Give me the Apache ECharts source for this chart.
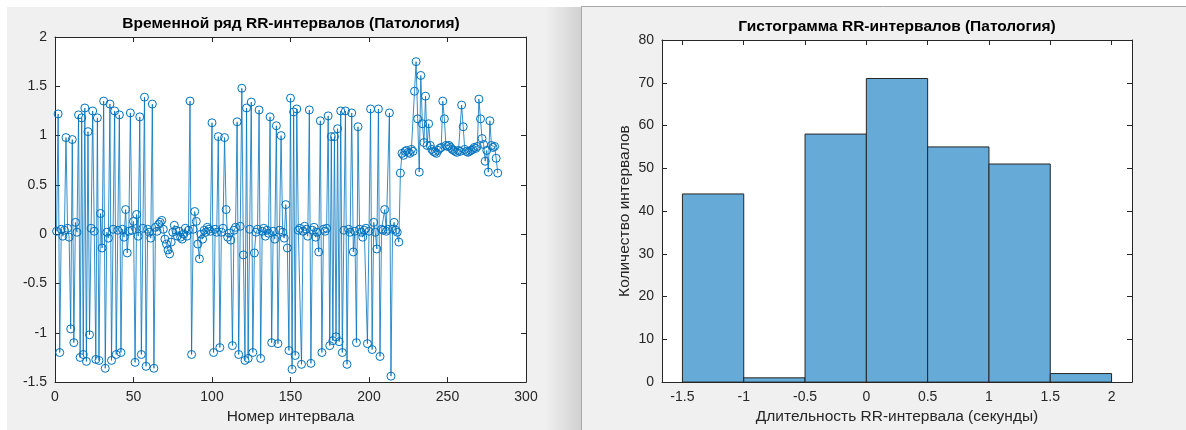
<!DOCTYPE html>
<html>
<head>
<meta charset="utf-8">
<script src="https://cdn.jsdelivr.net/npm/echarts@6/dist/echarts.min.js"></script>
<style>
html,body{margin:0;padding:0;background:#fff;}
#chart{width:1186px;height:430px;}
</style>
</head>
<body>
<div id="chart"></div>
<script>
// ---- Data ----
const leftTitle = 'Временной ряд RR-интервалов (Патология)';
const rightTitle = 'Гистограмма RR-интервалов (Патология)';
const leftXName = 'Номер интервала';
const rightXName = 'Длительность RR-интервала (секунды)';
const rightYName = 'Количество интервалов';

// RR values, interval numbers 1..282
const rrValues = [
  0.03, 1.22, -1.20, 0.05, -0.02, 0.04, 0.98, 0.06, -0.03, -0.96,
  0.96, -1.10, 0.12, 0.02, 1.21, -1.25, 1.18, -1.22, 1.28, -1.29,
  1.04, -1.02, 0.06, 1.25, 0.03, -1.27, 1.18, -1.28, 0.21, -0.14,
  1.35, -1.36, 0.02, -0.04, 1.32, -1.28, 0.05, 1.25, -1.22, 0.04,
  1.21, -1.20, 0.05, -0.03, 0.25, -0.19, 0.03, 1.23, 0.04, 0.13,
  -1.30, 0.20, -0.02, 1.19, -1.22, 0.06, 1.39, -1.34, 0.05, 0.02,
  -0.04, 1.32, -1.36, 0.07, 0.03, 0.10, 0.12, 0.14, 0.05, -0.05,
  -0.10, -0.16, -0.20, -0.08, 0.02, 0.09, 0.04, -0.02, 0.03, -0.03,
  -0.05, 0.00, 0.06, -0.02, 0.04, 1.35, -1.22, 0.05, 0.23, 0.13,
  -0.10, -0.25, 0.00, -0.05, 0.04, 0.02, 0.07, 0.05, 0.03, 1.13,
  -1.20, 0.05, 0.02, 0.99, -1.15, 0.02, 0.06, 0.98, 0.25, -0.03,
  0.01, -0.06, -1.13, 0.04, 0.07, 1.14, -1.22, 0.08, 1.48, -0.21,
  -1.28, 1.28, -1.26, 0.05, 1.34, -1.20, -0.19, 0.02, 0.05, 1.26,
  -1.26, 0.03, 0.06, -0.02, 0.04, 0.01, 1.19, -1.10, 0.03, -0.05,
  1.10, -1.11, 0.04, 1.00, 0.02, -0.04, 0.30, -0.14, -1.18, 1.38,
  -1.37, 1.24, -1.23, 1.27, 0.04, 0.06, -1.32, 0.03, 0.08, 0.05,
  -0.02, 1.26, -1.31, 0.04, 0.07, -0.03, 0.02, -0.18, 1.15, -1.20,
  0.05, 0.03, 0.06, 1.20, -1.13, 0.99, -1.08, 0.99, -1.04, 1.07,
  -1.09, 1.25, -1.20, 0.04, 1.25, -1.32, 0.05, 0.02, 1.23, -0.18,
  0.03, -1.10, 1.09, 0.05, 0.02, -0.03, 0.04, 0.06, -1.11, 0.03,
  1.27, -1.17, 0.12, 0.02, -0.15, 1.27, -1.24, 0.05, 0.04, 0.25,
  0.03, 0.05, 1.23, -1.44, 0.05, 0.12, 0.04, 0.02, -0.08, 0.62,
  0.82, 0.80, 0.84, 0.85, 0.83, 0.82, 0.86, 0.84, 1.45, 1.75,
  1.17, 0.63, 1.61, 1.12, 0.93, 1.40, 0.90, 1.12, 0.90, 0.86,
  0.84, 0.83, 0.82, 0.85, 0.87, 0.88, 1.35, 1.17, 0.90, 0.89,
  0.90, 0.88, 0.86, 0.85, 0.84, 0.83, 0.85, 0.84, 1.31, 1.09,
  0.86, 0.84, 0.83, 0.84, 0.85, 0.86, 0.88, 0.87, 0.89, 1.37,
  1.17, 0.97, 0.91, 0.74, 0.85, 0.63, 1.15, 0.90, 0.88, 0.89,
  0.77, 0.62
];

// Histogram
const binEdges = [-1.5, -1, -0.5, 0, 0.5, 1, 1.5, 2];
const binCounts = [44, 1, 58, 71, 55, 51, 2];
const histTicks = [-1.5, -1, -0.5, 0, 0.5, 1, 1.5, 2];

// ---- Styling ----
const FONT = 'Liberation Sans, Arial, Helvetica, sans-serif';
const AX = '#262626';
const BLUE = '#0072BD';
const HIST_FILL = '#66AAD7';
const TICK_FS = 14;
const NAME_FS = 15.5;
const TITLE_FS = 15.5;

const chart = echarts.init(document.getElementById('chart'), null, {renderer: 'canvas'});

function tickStyle(extra) {
  return Object.assign({show: true, inside: true, length: 5, lineStyle: {color: AX, width: 1}}, extra || {});
}
function labelStyle(extra) {
  return Object.assign({show: true, color: AX, fontSize: TICK_FS, fontFamily: FONT, margin: 8}, extra || {});
}
function axisBase(extra) {
  return Object.assign({
    type: 'value',
    axisLine: {show: true, onZero: false, lineStyle: {color: AX, width: 1}},
    axisTick: tickStyle(),
    axisLabel: labelStyle(),
    splitLine: {show: false},
    nameTextStyle: {color: AX, fontSize: NAME_FS, fontFamily: FONT}
  }, extra);
}
function hiddenLabels(o) { o.axisLabel = Object.assign({}, o.axisLabel, {show: false}); return o; }

const lineData = rrValues.map((v, i) => [i + 1, v]);
const histData = binCounts.map((c, i) => [binEdges[i], binEdges[i + 1], c]);

const option = {
  animation: false,
  backgroundColor: '#ffffff',
  graphic: [
    {type: 'rect', z: -100, shape: {x: 7, y: 7, width: 574, height: 423}, style: {fill: '#f0f0f0'}, silent: true},
    {type: 'rect', z: -99, shape: {x: 545, y: 7, width: 36, height: 423}, silent: true,
      style: {fill: new echarts.graphic.LinearGradient(0, 0, 1, 0, [
        {offset: 0, color: 'rgba(0,0,0,0)'}, {offset: 1, color: 'rgba(0,0,0,0.13)'}])}},
    {type: 'rect', z: -98, shape: {x: 581, y: 7, width: 605, height: 423}, style: {fill: '#f0f0f0'}, silent: true},
    {type: 'line', z: -97, shape: {x1: 581.5, y1: 7, x2: 581.5, y2: 430}, style: {stroke: '#a8a8a8', lineWidth: 1}, silent: true},
    {type: 'line', z: -97, shape: {x1: 581, y1: 6.5, x2: 1186, y2: 6.5}, style: {stroke: '#a8a8a8', lineWidth: 1}, silent: true}
  ],
  title: [
    {text: leftTitle, left: 291, top: 16, textAlign: 'center', padding: 0,
      textStyle: {fontFamily: FONT, fontSize: TITLE_FS, fontWeight: 'bold', color: '#000'}},
    {text: rightTitle, left: 897, top: 18.5, textAlign: 'center', padding: 0,
      textStyle: {fontFamily: FONT, fontSize: TITLE_FS, fontWeight: 'bold', color: '#000'}}
  ],
  grid: [
    {left: 55, top: 37, width: 471, height: 346, show: true, backgroundColor: '#fff', borderWidth: 0},
    {left: 662, top: 40, width: 470, height: 346, show: true, backgroundColor: '#fff', borderWidth: 0}
  ],
  xAxis: [
    axisBase({gridIndex: 0, position: 'bottom', min: 0, max: 300, interval: 50,
      name: leftXName, nameLocation: 'middle', nameGap: 25}),
    hiddenLabels(axisBase({gridIndex: 0, position: 'top', min: 0, max: 300, interval: 50})),
    axisBase({gridIndex: 1, position: 'bottom', min: -5 / 3, max: 13 / 6,
      axisLabel: labelStyle({customValues: histTicks}),
      axisTick: tickStyle({customValues: histTicks}),
      name: rightXName, nameLocation: 'middle', nameGap: 26}),
    hiddenLabels(axisBase({gridIndex: 1, position: 'top', min: -5 / 3, max: 13 / 6,
      axisTick: tickStyle({customValues: histTicks})}))
  ],
  yAxis: [
    axisBase({gridIndex: 0, position: 'left', min: -1.5, max: 2, interval: 0.5}),
    hiddenLabels(axisBase({gridIndex: 0, position: 'right', min: -1.5, max: 2, interval: 0.5})),
    axisBase({gridIndex: 1, position: 'left', min: 0, max: 80, interval: 10,
      name: rightYName, nameLocation: 'middle', nameRotate: 90, nameGap: 29}),
    hiddenLabels(axisBase({gridIndex: 1, position: 'right', min: 0, max: 80, interval: 10}))
  ],
  series: [
    {
      type: 'line', xAxisIndex: 0, yAxisIndex: 0, data: lineData,
      symbol: 'circle', symbolSize: 8, showSymbol: true,
      lineStyle: {color: BLUE, width: 0.8},
      itemStyle: {color: 'rgba(0,0,0,0)', borderColor: BLUE, borderWidth: 1},
      emphasis: {disabled: true}, silent: true, clip: false
    },
    {
      type: 'custom', xAxisIndex: 2, yAxisIndex: 2, data: histData,
      encode: {x: [0, 1], y: 2},
      renderItem: function (params, api) {
        const p0 = api.coord([api.value(0), api.value(2)]);
        const p1 = api.coord([api.value(1), 0]);
        return {
          type: 'rect',
          shape: {x: p0[0], y: p0[1], width: p1[0] - p0[0], height: p1[1] - p0[1]},
          style: {fill: HIST_FILL, stroke: AX, lineWidth: 1}
        };
      },
      silent: true
    }
  ]
};
chart.setOption(option);
</script>
</body>
</html>
